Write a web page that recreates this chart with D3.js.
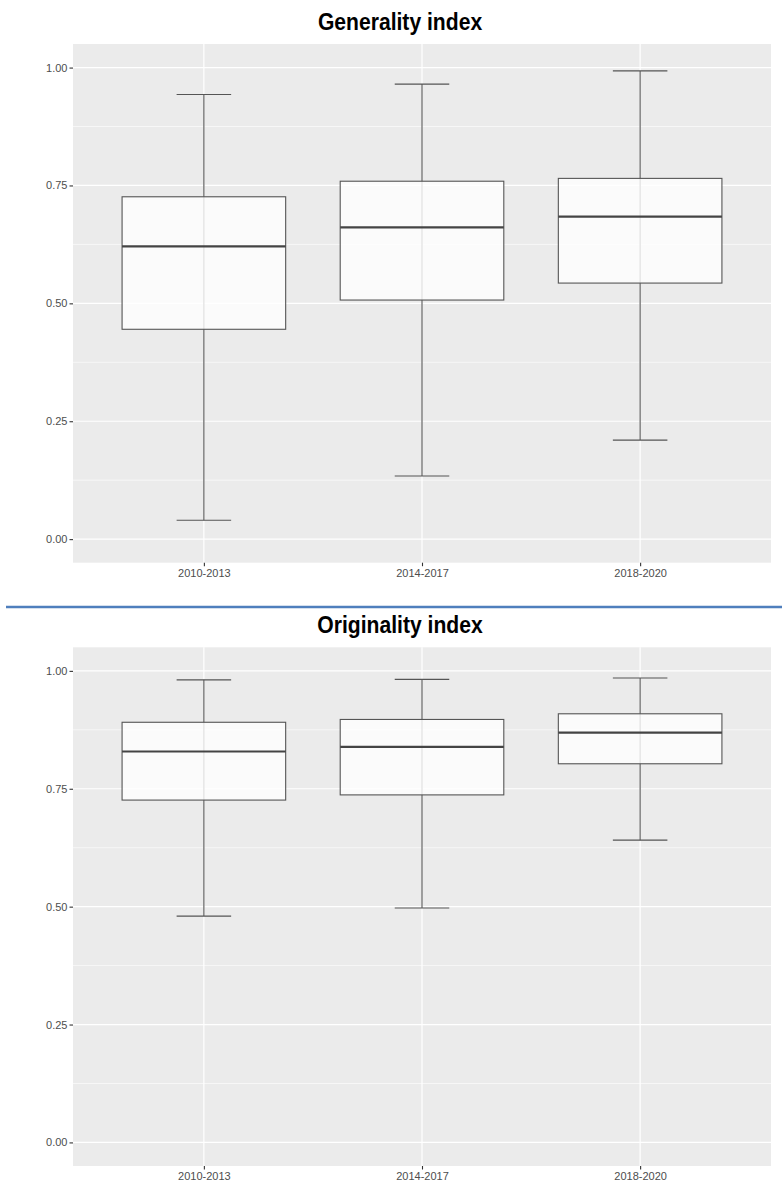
<!DOCTYPE html>
<html>
<head>
<meta charset="utf-8">
<script src="https://cdn.jsdelivr.net/npm/d3@7"></script>
<style>
  html, body { margin: 0; padding: 0; background: #ffffff; }
  svg { display: block; }
</style>
</head>
<body>
<svg id="chart" width="782" height="1183"></svg>
<script>
// Periods on the x axis
const periods = ["2010-2013", "2014-2017", "2018-2020"];

// Generality index: whisker ends, quartiles and median per period
const genLow    = [0.040, 0.134, 0.210];
const genQ1     = [0.445, 0.507, 0.543];
const genMedian = [0.621, 0.661, 0.684];
const genQ3     = [0.726, 0.759, 0.765];
const genHigh   = [0.943, 0.965, 0.993];

// Originality index
const origLow    = [0.480, 0.497, 0.641];
const origQ1     = [0.726, 0.737, 0.803];
const origMedian = [0.829, 0.839, 0.869];
const origQ3     = [0.891, 0.897, 0.909];
const origHigh   = [0.981, 0.982, 0.985];

// Y axis ticks
const yTicks = [0, 0.25, 0.5, 0.75, 1.0];
const yMinorTicks = [0.125, 0.375, 0.625, 0.875];

const panels = [
  { title: "Generality index", low: genLow, q1: genQ1, med: genMedian, q3: genQ3, high: genHigh },
  { title: "Originality index", low: origLow, q1: origQ1, med: origMedian, q3: origQ3, high: origHigh }
];

const svg = d3.select("#chart");
const W = 782;
const panelLeft = 73, panelRight = 771;
const panelOffset = 603.3;

function drawPanel(p, offset) {
  const g = svg.append("g").attr("transform", `translate(0,${offset})`);
  const top = 44, bottom = 562.7;

  const x = d3.scalePoint().domain(periods).range([panelLeft, panelRight]).padding(0.6);
  const step = x.step();
  const y = d3.scaleLinear().domain([-0.05, 1.05]).range([bottom, top]);

  // title (slightly condensed bold face)
  g.append("text")
    .attr("transform", "translate(400,30) scale(0.88,1)")
    .attr("text-anchor", "middle")
    .attr("font-family", "'Liberation Sans', Arial, sans-serif")
    .attr("font-weight", "bold")
    .attr("font-size", 24)
    .attr("fill", "#000")
    .text(p.title);

  // panel background
  g.append("rect")
    .attr("x", panelLeft).attr("y", top)
    .attr("width", panelRight - panelLeft).attr("height", bottom - top)
    .attr("fill", "#ebebeb");

  // minor gridlines
  g.selectAll(".minor").data(yMinorTicks).join("line")
    .attr("x1", panelLeft).attr("x2", panelRight)
    .attr("y1", d => y(d)).attr("y2", d => y(d))
    .attr("stroke", "#ffffff").attr("stroke-width", 0.6);

  // major gridlines
  g.selectAll(".majorY").data(yTicks).join("line")
    .attr("x1", panelLeft).attr("x2", panelRight)
    .attr("y1", d => y(d)).attr("y2", d => y(d))
    .attr("stroke", "#ffffff").attr("stroke-width", 1.2);
  g.selectAll(".majorX").data(periods).join("line")
    .attr("x1", d => x(d)).attr("x2", d => x(d))
    .attr("y1", top).attr("y2", bottom)
    .attr("stroke", "#ffffff").attr("stroke-width", 1.2);

  const stats = periods.map((k, i) => ({
    k, low: p.low[i], q1: p.q1[i], med: p.med[i], q3: p.q3[i], high: p.high[i]
  }));

  const boxW = step * 0.75;
  const capW = step * 0.25;
  const stroke = "#555555";

  // error bars (whisker line and caps)
  const eb = g.selectAll(".eb").data(stats).join("g");
  eb.append("line")
    .attr("x1", d => x(d.k)).attr("x2", d => x(d.k))
    .attr("y1", d => y(d.low)).attr("y2", d => y(d.high))
    .attr("stroke", stroke).attr("stroke-width", 1.1);
  eb.append("line")
    .attr("x1", d => x(d.k) - capW / 2).attr("x2", d => x(d.k) + capW / 2)
    .attr("y1", d => y(d.low)).attr("y2", d => y(d.low))
    .attr("stroke", stroke).attr("stroke-width", 1.1);
  eb.append("line")
    .attr("x1", d => x(d.k) - capW / 2).attr("x2", d => x(d.k) + capW / 2)
    .attr("y1", d => y(d.high)).attr("y2", d => y(d.high))
    .attr("stroke", stroke).attr("stroke-width", 1.1);

  // boxes
  const bx = g.selectAll(".bx").data(stats).join("g");
  bx.append("rect")
    .attr("x", d => x(d.k) - boxW / 2)
    .attr("width", boxW)
    .attr("y", d => y(d.q3))
    .attr("height", d => y(d.q1) - y(d.q3))
    .attr("fill", "#ffffff").attr("fill-opacity", 0.8)
    .attr("stroke", stroke).attr("stroke-width", 1.1);
  bx.append("line")
    .attr("x1", d => x(d.k) - boxW / 2).attr("x2", d => x(d.k) + boxW / 2)
    .attr("y1", d => y(d.med)).attr("y2", d => y(d.med))
    .attr("stroke", "#444444").attr("stroke-width", 2.2);

  // y axis
  const yAxis = d3.axisLeft(y).tickValues(yTicks).tickFormat(d3.format(".2f")).tickSize(3.5).tickPadding(2);
  const ya = g.append("g").attr("transform", `translate(${panelLeft},0)`).call(yAxis);
  ya.select(".domain").remove();
  ya.selectAll(".tick line").attr("stroke", "#333333").attr("stroke-width", 1.1);
  ya.selectAll(".tick text")
    .attr("fill", "#4d4d4d")
    .attr("font-family", "'Liberation Sans', Arial, sans-serif")
    .attr("font-size", 11);

  // x axis
  const xAxis = d3.axisBottom(x).tickSize(3.5).tickPadding(3);
  const xa = g.append("g").attr("transform", `translate(0,${bottom})`).call(xAxis);
  xa.select(".domain").remove();
  xa.selectAll(".tick line").attr("stroke", "#333333").attr("stroke-width", 1.1);
  xa.selectAll(".tick text")
    .attr("fill", "#4d4d4d")
    .attr("font-family", "'Liberation Sans', Arial, sans-serif")
    .attr("font-size", 11);
}

panels.forEach((p, i) => drawPanel(p, i * panelOffset));

// divider between the two panels
svg.append("line")
  .attr("x1", 6).attr("x2", W)
  .attr("y1", 607).attr("y2", 607)
  .attr("stroke", "#4f7fbd").attr("stroke-width", 2.5);
</script>
</body>
</html>
